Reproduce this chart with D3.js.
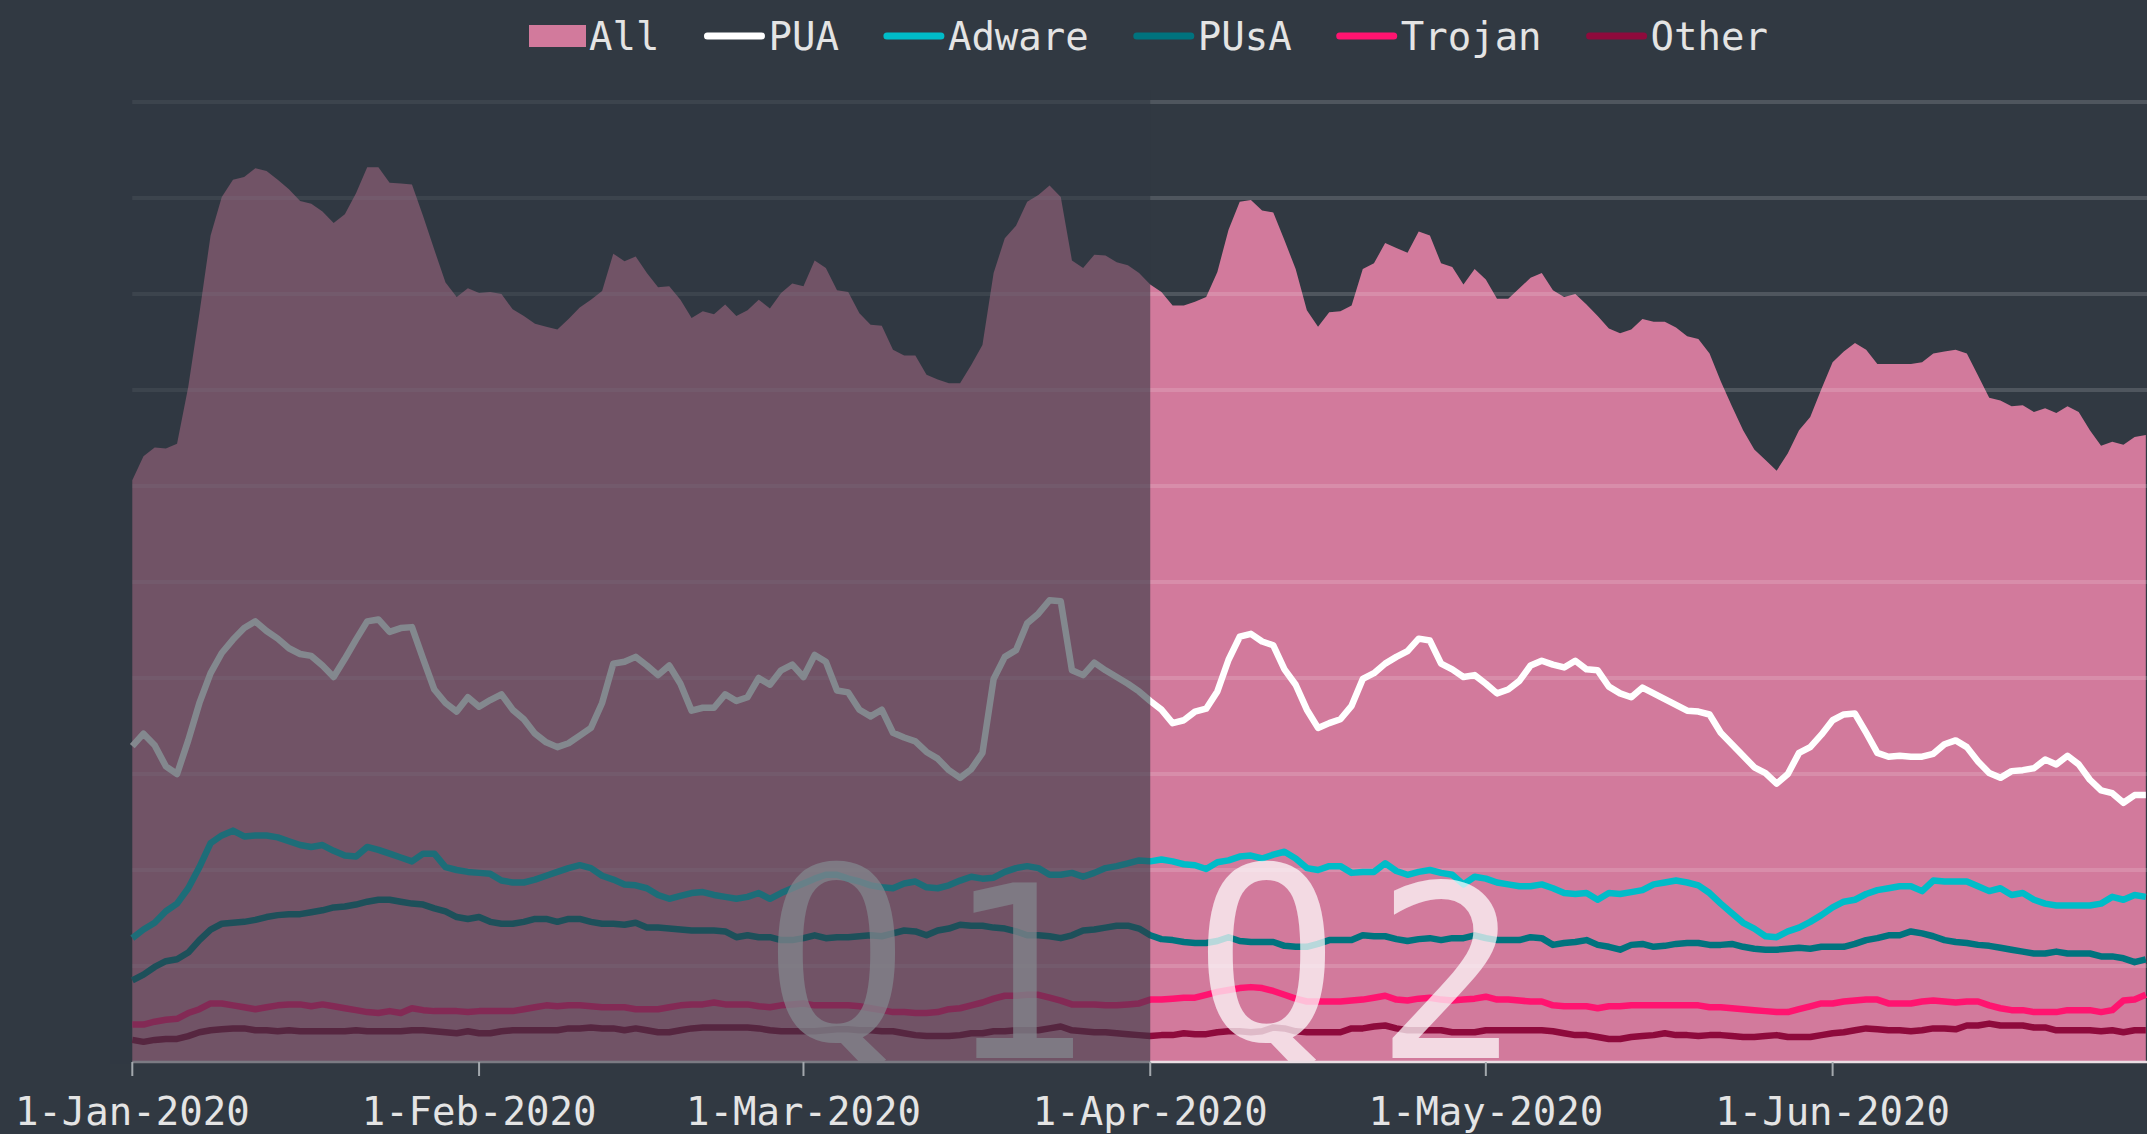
<!DOCTYPE html>
<html><head><meta charset="utf-8">
<script src="https://cdn.jsdelivr.net/npm/d3@7"></script>
<style>
html,body{margin:0;padding:0;background:#313942;overflow:hidden}
svg{display:block}
</style></head><body>
<svg id="chart" width="2147" height="1134"></svg>
<script>
// ---- data (daily, 1-Jan-2020 .. 29-Jun-2020, relative index scale 0..100) ----
const seriesNames = ["All", "PUA", "Adware", "PUsA", "Trojan", "Other"];
const quarterLabels = ["Q1", "Q2"];
const startDate = new Date(2020, 0, 1);
const endDate = new Date(2020, 5, 30);
const dates = d3.timeDay.range(startDate, endDate);

const allValues = [
60.6,63.1,64.0,63.9,64.4,70.3,78.0,86.1,90.1,91.9,
92.2,93.1,92.8,91.9,90.9,89.7,89.4,88.6,87.4,88.3,
90.5,93.2,93.2,91.6,91.5,91.4,88.1,84.6,81.2,79.7,
80.6,80.1,80.2,80.0,78.4,77.7,76.9,76.6,76.3,77.4,
78.6,79.4,80.3,84.2,83.4,83.9,82.2,80.7,80.8,79.4,
77.5,78.2,77.9,78.9,77.7,78.3,79.4,78.5,80.1,81.1,
80.8,83.5,82.7,80.4,80.2,78.0,76.8,76.7,74.2,73.6,
73.6,71.6,71.1,70.7,70.7,72.6,74.7,82.2,85.8,87.1,
89.6,90.3,91.3,90.1,83.5,82.7,84.1,84.0,83.3,83.0,
82.2,81.0,80.2,78.8,78.8,79.2,79.7,82.3,86.7,89.6,
89.8,88.7,88.5,85.6,82.6,78.3,76.6,78.1,78.2,78.8,
82.6,83.2,85.3,84.8,84.3,86.5,86.1,83.2,82.8,81.0,
82.6,81.5,79.5,79.5,80.6,81.7,82.2,80.4,79.7,80.0,
78.9,77.7,76.4,75.9,76.3,77.4,77.1,77.1,76.5,75.6,
75.3,73.8,70.9,68.3,65.8,63.8,62.7,61.6,63.4,65.8,
67.2,70.1,72.9,74.0,74.9,74.2,72.7,72.7,72.7,72.7,
72.9,73.8,74.0,74.2,73.8,71.5,69.2,68.9,68.3,68.4,
67.7,68.1,67.6,68.3,67.7,65.8,64.2,64.6,64.3,65.1,
65.3];

const puaValues = [
32.9,34.2,33.0,30.8,30.0,33.5,37.4,40.5,42.6,44.0,
45.2,45.9,44.9,44.1,43.1,42.5,42.3,41.3,40.1,42.0,
44.0,45.9,46.1,44.8,45.2,45.3,42.0,38.8,37.4,36.5,
38.0,37.0,37.7,38.3,36.7,35.7,34.2,33.3,32.8,33.2,
34.0,34.8,37.4,41.5,41.7,42.2,41.3,40.3,41.3,39.4,
36.6,36.9,36.9,38.3,37.6,38.0,40.0,39.3,40.8,41.4,
40.1,42.4,41.7,38.7,38.5,36.7,36.0,36.7,34.3,33.8,
33.4,32.3,31.6,30.4,29.6,30.5,32.2,39.9,42.2,42.9,
45.7,46.7,48.1,48.0,40.8,40.3,41.6,40.8,40.1,39.4,
38.6,37.6,36.7,35.3,35.6,36.5,36.8,38.6,41.9,44.3,
44.6,43.8,43.4,40.9,39.3,36.7,34.8,35.3,35.7,37.1,
39.9,40.5,41.5,42.2,42.8,44.1,43.9,41.5,40.9,40.1,
40.3,39.4,38.4,38.8,39.7,41.3,41.8,41.4,41.1,41.8,
40.9,40.8,39.1,38.4,38.0,39.0,38.4,37.8,37.2,36.6,
36.5,36.2,34.3,33.1,31.9,30.7,30.1,29.0,30.0,32.2,
32.8,34.1,35.6,36.2,36.3,34.3,32.2,31.8,31.9,31.8,
31.8,32.1,33.1,33.5,32.8,31.3,30.1,29.6,30.3,30.4,
30.6,31.5,31.0,31.9,31.0,29.4,28.3,28.0,27.0,27.8,
27.8];

const adwareValues = [
12.9,13.8,14.5,15.7,16.5,18.1,20.3,22.8,23.6,24.1,
23.5,23.6,23.6,23.4,23.0,22.6,22.4,22.6,22.0,21.5,
21.4,22.4,22.1,21.7,21.3,20.9,21.7,21.7,20.3,20.0,
19.8,19.7,19.6,18.9,18.7,18.7,19.0,19.4,19.8,20.2,
20.5,20.2,19.4,19.0,18.5,18.4,18.1,17.4,17.0,17.3,
17.6,17.7,17.4,17.2,17.0,17.2,17.6,17.0,17.6,18.1,
18.6,19.1,19.5,19.5,19.1,18.8,18.4,18.2,18.1,18.6,
18.8,18.2,18.1,18.4,18.9,19.3,19.1,19.2,19.8,20.2,
20.4,20.2,19.5,19.5,19.7,19.3,19.7,20.2,20.4,20.7,
21.0,20.9,21.1,20.9,20.6,20.5,20.1,20.8,21.0,21.4,
21.5,21.2,21.6,21.9,21.2,20.2,20.0,20.4,20.4,19.7,
19.8,19.8,20.7,19.9,19.5,19.8,20.0,19.7,19.5,18.5,
19.3,19.1,18.7,18.5,18.3,18.3,18.5,18.1,17.6,17.5,
17.6,16.9,17.6,17.5,17.7,17.9,18.5,18.7,18.9,18.7,
18.4,17.6,16.5,15.5,14.5,13.9,13.1,13.0,13.6,14.0,
14.6,15.3,16.1,16.7,16.9,17.5,17.9,18.1,18.3,18.3,
17.8,18.9,18.8,18.8,18.8,18.3,17.8,18.1,17.4,17.6,
16.9,16.5,16.3,16.3,16.3,16.3,16.5,17.2,16.9,17.4,
17.2];

const pusaValues = [
8.5,9.1,9.9,10.5,10.7,11.4,12.7,13.8,14.4,14.5,
14.6,14.8,15.1,15.3,15.4,15.4,15.6,15.8,16.1,16.2,
16.4,16.7,16.9,16.9,16.7,16.5,16.4,16.0,15.7,15.1,
14.9,15.1,14.6,14.4,14.4,14.6,14.9,14.9,14.6,14.9,
14.9,14.6,14.4,14.4,14.3,14.5,14.0,14.0,13.9,13.8,
13.7,13.7,13.7,13.6,13.0,13.2,13.0,13.0,12.7,12.7,
12.9,13.2,12.9,13.0,13.0,13.1,13.2,13.1,13.4,13.7,
13.6,13.2,13.7,13.9,14.3,14.2,14.2,14.0,13.9,13.6,
13.2,13.2,13.1,12.9,13.2,13.7,13.8,14.0,14.2,14.2,
13.9,13.2,12.8,12.7,12.5,12.4,12.4,12.6,13.0,12.6,
12.5,12.5,12.5,12.1,12.0,12.0,12.3,12.7,12.7,12.7,
13.2,13.1,13.1,12.8,12.6,12.8,12.9,12.7,12.9,12.9,
13.2,12.9,12.7,12.7,12.7,13.0,12.9,12.2,12.4,12.5,
12.7,12.2,12.0,11.7,12.2,12.3,12.0,12.1,12.3,12.4,
12.4,12.2,12.2,12.3,12.0,11.8,11.7,11.7,11.8,11.9,
11.8,12.0,12.0,12.0,12.3,12.7,12.9,13.2,13.2,13.6,
13.4,13.1,12.7,12.5,12.4,12.2,12.1,11.9,11.7,11.5,
11.3,11.3,11.5,11.3,11.3,11.3,11.0,11.0,10.8,10.4,
10.7];

const trojanValues = [
3.9,3.9,4.2,4.4,4.5,5.1,5.5,6.1,6.1,5.9,
5.7,5.5,5.7,5.9,6.0,6.0,5.8,6.0,5.8,5.6,
5.4,5.2,5.1,5.3,5.1,5.6,5.4,5.3,5.3,5.3,
5.2,5.3,5.3,5.3,5.3,5.5,5.7,5.9,5.8,5.9,
5.9,5.8,5.7,5.7,5.7,5.5,5.5,5.5,5.7,5.9,
6.0,6.0,6.2,6.0,6.0,6.0,5.8,5.7,5.9,6.0,
6.1,5.9,5.9,5.9,5.9,5.8,5.6,5.4,5.2,5.2,
5.1,5.1,5.2,5.5,5.6,5.9,6.2,6.6,6.9,6.9,
7.0,7.0,6.7,6.4,6.0,6.0,6.0,5.9,5.9,6.0,
6.1,6.5,6.5,6.6,6.7,6.7,7.0,7.3,7.5,7.7,
7.8,7.7,7.4,7.0,6.6,6.3,6.3,6.3,6.3,6.4,
6.5,6.7,6.9,6.5,6.4,6.6,6.7,6.5,6.4,6.5,
6.6,6.8,6.5,6.5,6.4,6.3,6.3,5.9,5.8,5.8,
5.8,5.6,5.8,5.8,5.9,5.9,5.9,5.9,5.9,5.9,
5.9,5.7,5.7,5.6,5.5,5.4,5.3,5.2,5.2,5.5,
5.8,6.1,6.1,6.3,6.4,6.5,6.5,6.1,6.1,6.1,
6.3,6.4,6.3,6.2,6.3,6.3,5.9,5.6,5.4,5.4,
5.2,5.2,5.2,5.4,5.4,5.4,5.2,5.4,6.4,6.5,
7.0];

const otherValues = [
2.3,2.1,2.3,2.4,2.4,2.7,3.1,3.3,3.4,3.5,
3.5,3.3,3.3,3.2,3.3,3.2,3.2,3.2,3.2,3.2,
3.3,3.2,3.2,3.2,3.2,3.3,3.3,3.2,3.1,3.0,
3.2,3.0,3.0,3.2,3.3,3.3,3.3,3.3,3.3,3.5,
3.5,3.6,3.5,3.5,3.3,3.5,3.3,3.1,3.1,3.3,
3.5,3.6,3.6,3.6,3.6,3.6,3.5,3.3,3.2,3.2,
3.2,3.2,3.3,3.4,3.4,3.3,3.3,3.2,3.2,3.0,
2.8,2.7,2.7,2.7,2.8,3.0,3.0,3.2,3.2,3.3,
3.3,3.3,3.5,3.7,3.3,3.2,3.1,3.1,3.0,2.9,
2.8,2.7,2.8,2.8,3.0,2.9,2.9,3.1,3.2,3.2,
3.1,3.2,3.6,3.5,3.2,3.1,3.1,3.1,3.1,3.5,
3.5,3.7,3.8,3.5,3.3,3.3,3.3,3.3,3.1,3.1,
3.1,3.3,3.3,3.3,3.3,3.3,3.3,3.2,3.0,2.8,
2.8,2.6,2.4,2.4,2.6,2.7,2.8,3.0,2.8,2.8,
2.7,2.8,2.8,2.7,2.6,2.6,2.7,2.8,2.6,2.6,
2.6,2.8,3.0,3.1,3.3,3.5,3.4,3.3,3.3,3.2,
3.3,3.5,3.5,3.4,3.8,3.8,4.0,3.8,3.8,3.8,
3.6,3.6,3.3,3.3,3.3,3.3,3.2,3.3,3.1,3.3,
3.3];

// ---- styles ----
const colors = {All:"#d27a9c", PUA:"#ffffff", Adware:"#00bcc8", PUsA:"#00737e", Trojan:"#ff1470", Other:"#8e0a3c"};
const BG = "#313942";
const FONT = "'DejaVu Sans Mono', 'Liberation Mono', monospace";

const W = 2147, H = 1134;
const svg = d3.select("#chart");
svg.append("rect").attr("width", W).attr("height", H).attr("fill", BG);

const x = d3.scaleTime().domain([startDate, endDate]).range([132.3, 2157]);
const y = d3.scaleLinear().domain([0, 100]).range([1062, 102]);

const lineSeries = [
  {name:"Other", values: otherValues},
  {name:"Trojan", values: trojanValues},
  {name:"PUsA", values: pusaValues},
  {name:"Adware", values: adwareValues},
  {name:"PUA", values: puaValues}
];

// clip for quarter labels (keep them inside the plot, above the baseline)
svg.append("defs").append("clipPath").attr("id", "plotClip")
  .append("rect").attr("x", 0).attr("y", 0).attr("width", W).attr("height", y(0) + 1);

// area
const area = d3.area().x((d,i)=>x(dates[i])).y0(y(0)).y1(d=>y(d));
svg.append("path").datum(allValues).attr("d", area).attr("fill", colors.All);

// gridlines
const gridG = svg.append("g");
gridG.selectAll("line").data(y.ticks(10).filter(v=>v>0)).join("line")
  .attr("x1", x.range()[0]).attr("x2", W)
  .attr("y1", d=>y(d)).attr("y2", d=>y(d))
  .attr("stroke", "#ffffff").attr("stroke-opacity", 0.15).attr("stroke-width", 4);

// lines
const line = d3.line().x((d,i)=>x(dates[i])).y(d=>y(d));
svg.append("g").selectAll("path").data(lineSeries).join("path")
  .attr("d", d=>line(d.values))
  .attr("fill", "none")
  .attr("stroke", d=>colors[d.name])
  .attr("stroke-width", 6.5)
  .attr("stroke-linejoin", "round");

// quarter labels ("Q" raised so its tail stays above the baseline, digit sits on it)
const q2Start = new Date(2020, 3, 1);
const xq = x(q2Start);
const qText = svg.append("g").attr("clip-path", "url(#plotClip)")
  .attr("font-family", FONT).attr("font-size", 240)
  .attr("fill", "#ffffff").attr("fill-opacity", 0.72).attr("letter-spacing", 36);
[[quarterLabels[0], xq - 386], [quarterLabels[1], xq + 44]].forEach(([label, px]) => {
  const t = qText.append("text").attr("x", px).attr("y", 1040);
  t.append("tspan").text(label[0]);
  t.append("tspan").attr("dy", 18).text(label.slice(1));
});

// axis baseline
svg.append("line").attr("x1", x.range()[0]).attr("x2", W)
  .attr("y1", y(0)).attr("y2", y(0))
  .attr("stroke", "#eadfe4").attr("stroke-width", 2.5);

// Q1 dim overlay
svg.append("rect").attr("x", 110).attr("y", 90)
  .attr("width", xq - 110).attr("height", y(0) + 2 - 90)
  .attr("fill", BG).attr("fill-opacity", 0.6);

// x axis ticks & labels
const fmt = d3.timeFormat("%-d-%b-%Y");
const ticks = x.ticks(d3.timeMonth.every(1)).filter(d => x(d) <= W);
const axG = svg.append("g");
axG.selectAll("line").data(ticks).join("line")
  .attr("x1", d=>x(d)).attr("x2", d=>x(d))
  .attr("y1", y(0)).attr("y2", y(0) + 14)
  .attr("stroke", "#a3a8ad").attr("stroke-width", 2);
axG.selectAll("text").data(ticks).join("text")
  .attr("x", d=>x(d)).attr("y", 1125)
  .attr("text-anchor", "middle")
  .attr("font-family", FONT).attr("font-size", 39)
  .attr("fill", "#e4e4e4")
  .text(d=>fmt(d));

// legend
const legend = svg.append("g").attr("font-family", FONT).attr("font-size", 39).attr("fill", "#e4e4e4");
let lx = 529;
seriesNames.forEach(name => {
  if (name === "All") {
    legend.append("rect").attr("x", lx).attr("y", 25).attr("width", 57).attr("height", 22).attr("fill", colors[name]);
    lx += 57;
  } else {
    legend.append("line").attr("x1", lx + 4).attr("x2", lx + 58).attr("y1", 36).attr("y2", 36)
      .attr("stroke", colors[name]).attr("stroke-width", 7).attr("stroke-linecap", "round");
    lx += 62;
  }
  const t = legend.append("text").attr("x", lx + 3).attr("y", 50).text(name);
  lx += 3 + t.node().getComputedTextLength() + 44;
});
</script>
</body></html>
